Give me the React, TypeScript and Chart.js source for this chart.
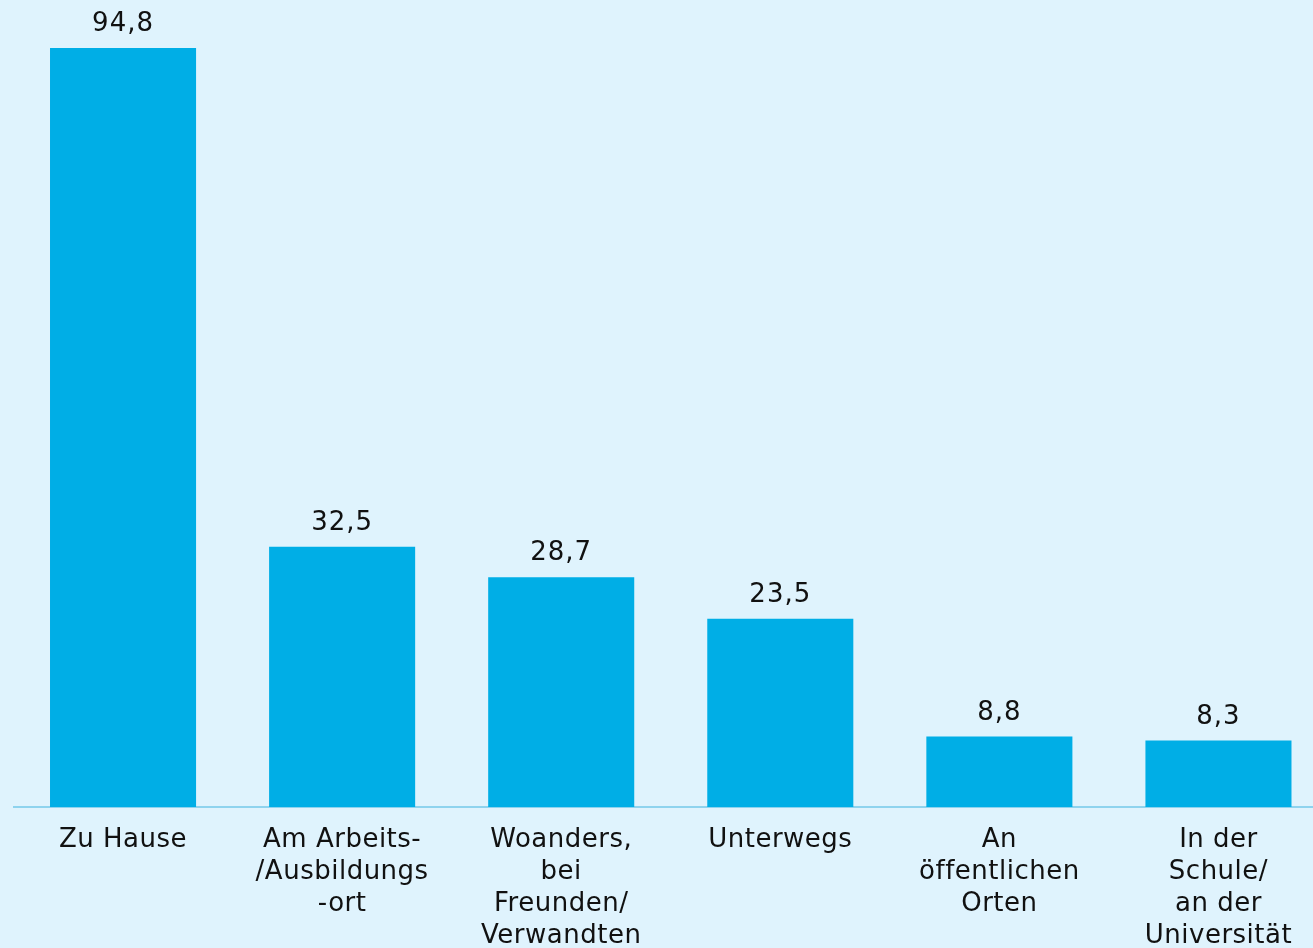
import React, { useEffect, useRef } from "react";
import { Chart, registerables } from "chart.js";

Chart.register(...registerables);

const categories: (string | string[])[] = [
  "Zu Hause",
  ["Am Arbeits-", "/Ausbildungs", "-ort"],
  ["Woanders,", "bei", "Freunden/", "Verwandten"],
  "Unterwegs",
  ["An", "öffentlichen", "Orten"],
  ["In der", "Schule/", "an der", "Universität"],
];
const values: number[] = [94.8, 32.5, 28.7, 23.5, 8.8, 8.3];
const valueLabels: string[] = ["94,8", "32,5", "28,7", "23,5", "8,8", "8,3"];

const FONT = "'DejaVu Sans', Verdana, sans-serif";

const letterSpacingPlugin = {
  id: "letterSpacing",
  beforeDraw(chart: any) {
    (chart.ctx as any).letterSpacing = "0.5px";
  },
};

const valueLabelPlugin = {
  id: "valueLabels",
  afterDatasetsDraw(chart: any) {
    const ctx = chart.ctx;
    const meta = chart.getDatasetMeta(0);
    ctx.save();
    (ctx as any).letterSpacing = "1px";
    ctx.fillStyle = "#111111";
    ctx.font = `26px ${FONT}`;
    ctx.textAlign = "center";
    ctx.textBaseline = "alphabetic";
    meta.data.forEach((el: any, i: number) => {
      ctx.fillText(valueLabels[i], el.x, el.y - 17);
    });
    ctx.restore();
  },
};

export default function App() {
  const canvasRef = useRef<HTMLCanvasElement | null>(null);

  useEffect(() => {
    if (!canvasRef.current) return;
    const chart = new Chart(canvasRef.current, {
      type: "bar",
      data: {
        labels: categories,
        datasets: [
          {
            data: values,
            backgroundColor: "#00AEE6",
            borderWidth: 0,
            barPercentage: 146 / 219,
            categoryPercentage: 1,
          },
        ],
      },
      options: {
        animation: false,
        responsive: false,
        devicePixelRatio: 1,
        layout: { padding: { top: 6.4, left: 13.5, right: 0, bottom: 0 } },
        plugins: {
          legend: { display: false },
          tooltip: { enabled: false },
        },
        scales: {
          x: {
            offset: true,
            grid: { display: false, drawTicks: false },
            border: { display: true, color: "#8ED3EE", width: 2 },
            ticks: {
              color: "#111111",
              padding: 17,
              maxRotation: 0,
              autoSkip: false,
              font: { family: FONT, size: 26, lineHeight: "32px" } as any,
            },
            afterFit(scale: any) {
              scale.height = 141;
            },
          },
          y: {
            display: false,
            min: 0,
            max: 100,
          },
        },
      },
      plugins: [letterSpacingPlugin, valueLabelPlugin],
    });
    return () => chart.destroy();
  }, []);

  return (
    <div
      style={{
        position: "fixed",
        left: 0,
        top: 0,
        width: 1313,
        height: 948,
        overflow: "hidden",
        background: "#DFF3FD",
      }}
    >
      <canvas ref={canvasRef} width={1328} height={948} style={{ display: "block" }} />
    </div>
  );
}
